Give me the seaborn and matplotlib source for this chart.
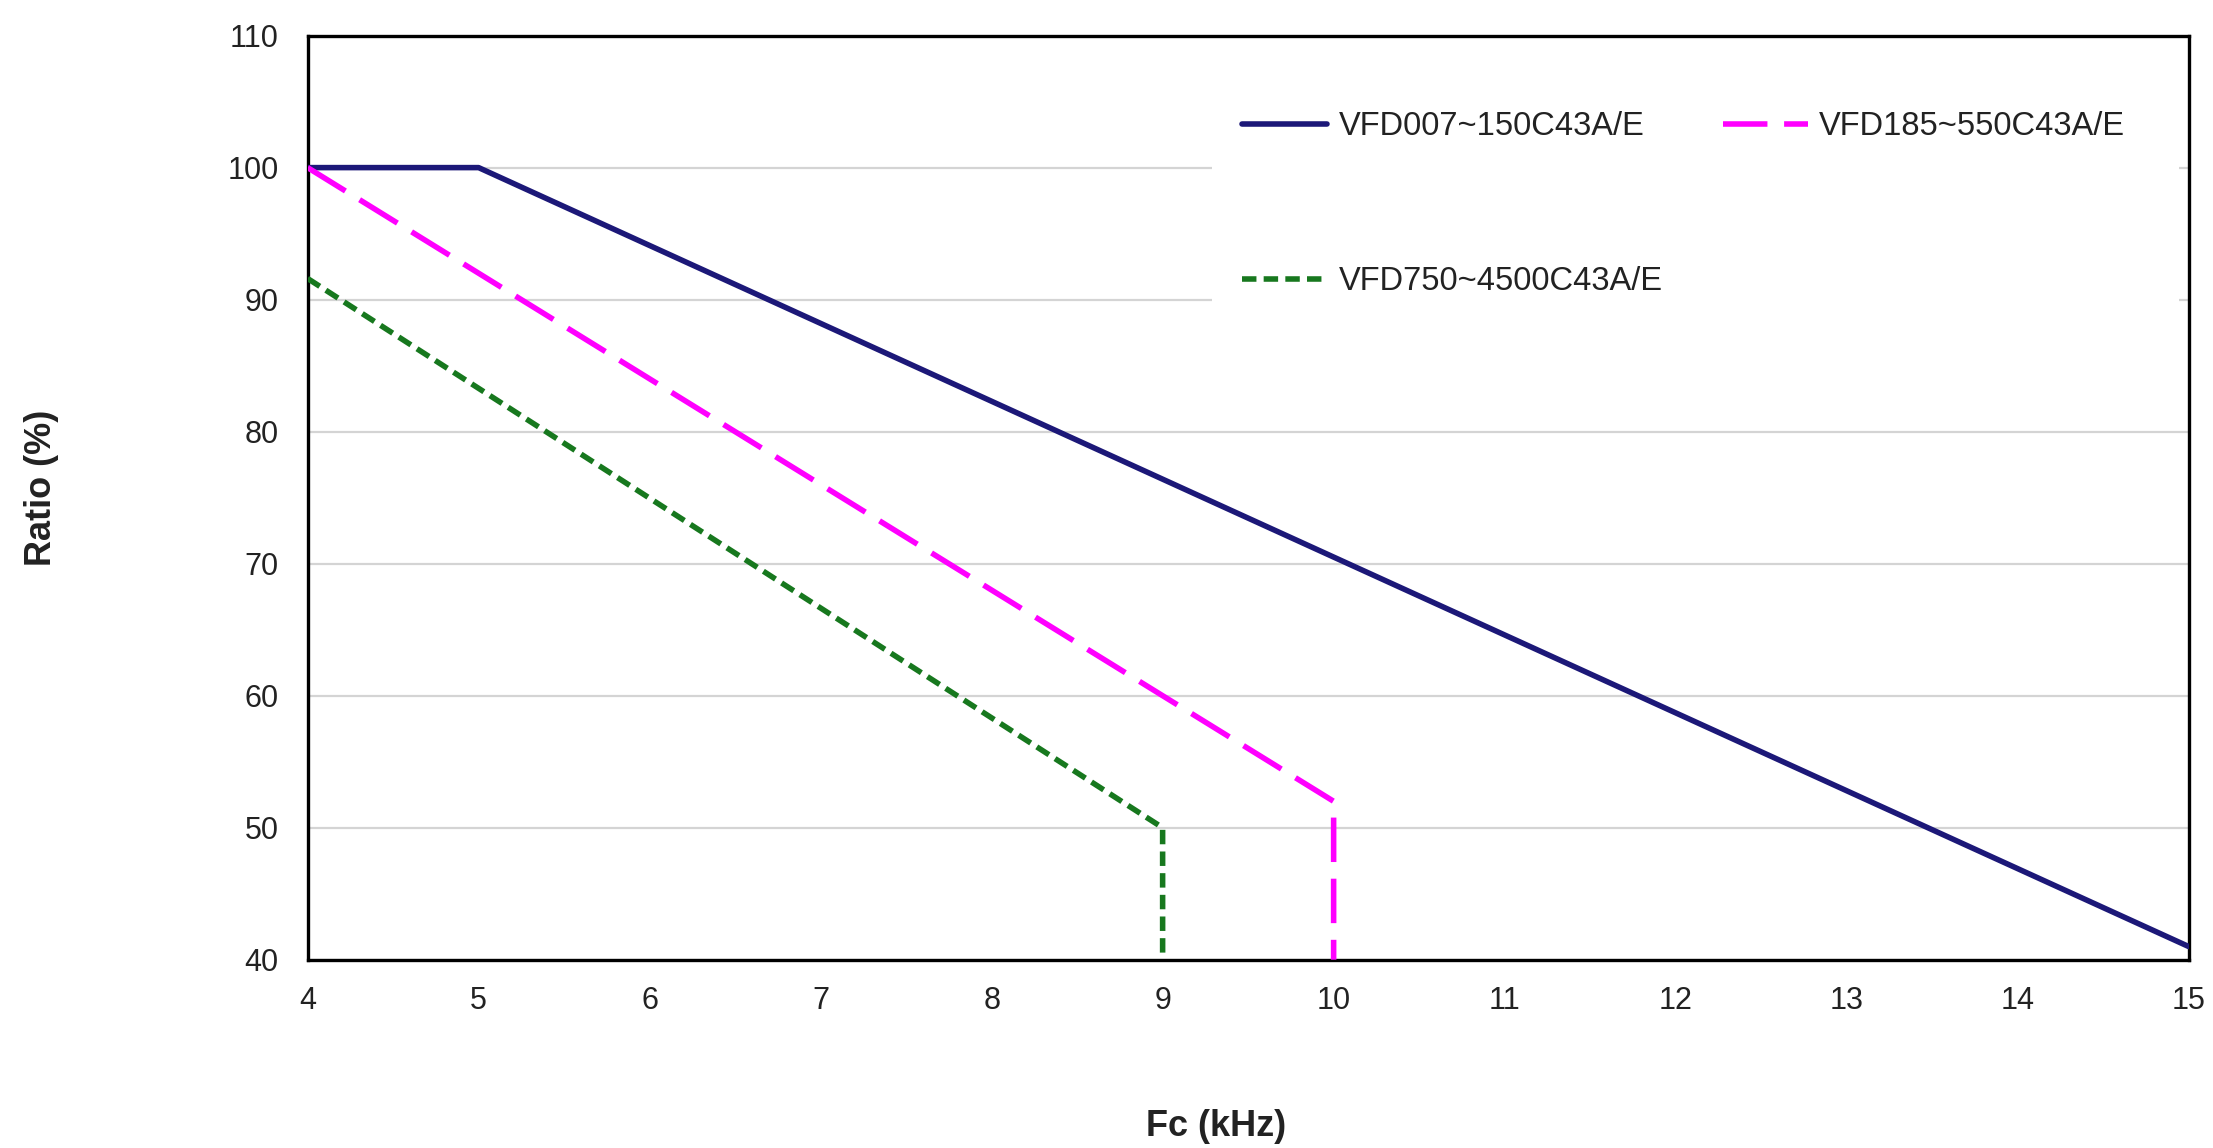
import matplotlib
matplotlib.use('Agg')
import matplotlib.pyplot as plt
from matplotlib.patches import Rectangle
import pandas as pd
import seaborn as sns

# derating curves: carrier frequency (kHz) vs output current ratio (%)
series_names = ['VFD007~150C43A/E', 'VFD185~550C43A/E', 'VFD750~4500C43A/E']
fc_small = [4, 5, 15]
ratio_small = [100, 100, 41]
fc_mid = [4, 10, 10]
ratio_mid = [100, 52, 40]
fc_large = [4, 9, 9]
ratio_large = [91.6, 50, 40]

x_ticks = [4, 5, 6, 7, 8, 9, 10, 11, 12, 13, 14, 15]
y_ticks = [40, 50, 60, 70, 80, 90, 100, 110]

df = pd.concat([
    pd.DataFrame({'Fc': fc_small, 'Ratio': ratio_small, 'model': series_names[0]}),
    pd.DataFrame({'Fc': fc_mid, 'Ratio': ratio_mid, 'model': series_names[1]}),
    pd.DataFrame({'Fc': fc_large, 'Ratio': ratio_large, 'model': series_names[2]}),
], ignore_index=True)

sns.set_theme(style='white')
plt.rcParams['font.family'] = ['Liberation Sans', 'DejaVu Sans']

colors = {series_names[0]: '#1c1878', series_names[1]: '#ff00ff', series_names[2]: '#17781e'}
dash_styles = {series_names[0]: '', series_names[1]: (8, 3), series_names[2]: (2.6, 1.3)}

fig = plt.figure(figsize=(22.13, 11.48), dpi=100)
ax = fig.add_axes([0.139, 0.164, 0.850, 0.805])

sns.lineplot(data=df, x='Fc', y='Ratio', hue='model', style='model',
             palette=colors, dashes=dash_styles, sort=False, estimator=None,
             linewidth=4, legend=False, ax=ax, zorder=3)

ax.set_xlim(4, 15)
ax.set_ylim(40, 110)
ax.set_xticks(x_ticks)
ax.set_yticks(y_ticks)
ax.tick_params(axis='both', length=0, labelsize=22, labelcolor='#222222')
ax.tick_params(axis='x', pad=19)
ax.tick_params(axis='y', pad=21)
ax.yaxis.grid(True, color='#d4d4d4', linewidth=1.6)
ax.xaxis.grid(False)
for sp in ax.spines.values():
    sp.set_visible(True)
    sp.set_color('black')
    sp.set_linewidth(2.4)

ax.set_xlabel('Fc (kHz)', fontsize=26, fontweight='bold', color='#222222')
ax.set_ylabel('Ratio (%)', fontsize=26, fontweight='bold', color='#222222')
ax.xaxis.set_label_coords(0.483, -0.162)
ax.yaxis.set_label_coords(-0.132, 0.511)

# white block behind the legend hides the grid there
ax.add_patch(Rectangle((0.481, 0.69), 0.514, 0.275, transform=ax.transAxes,
                       facecolor='white', edgecolor='none', zorder=2))

lines = ax.get_lines()
leg = ax.legend([lines[0], lines[2], lines[1]],
                [series_names[0], series_names[2], series_names[1]],
                ncol=2, loc='upper left', bbox_to_anchor=(0.4968, 0.918),
                fontsize=23.5, frameon=False, handlelength=2.6, handletextpad=0.35,
                columnspacing=1.85, labelspacing=3.8, borderpad=0,
                borderaxespad=0)
leg.set_zorder(4)
for t in leg.get_texts():
    t.set_color('#222222')

fig.savefig('out.png', dpi=100, facecolor='white')
